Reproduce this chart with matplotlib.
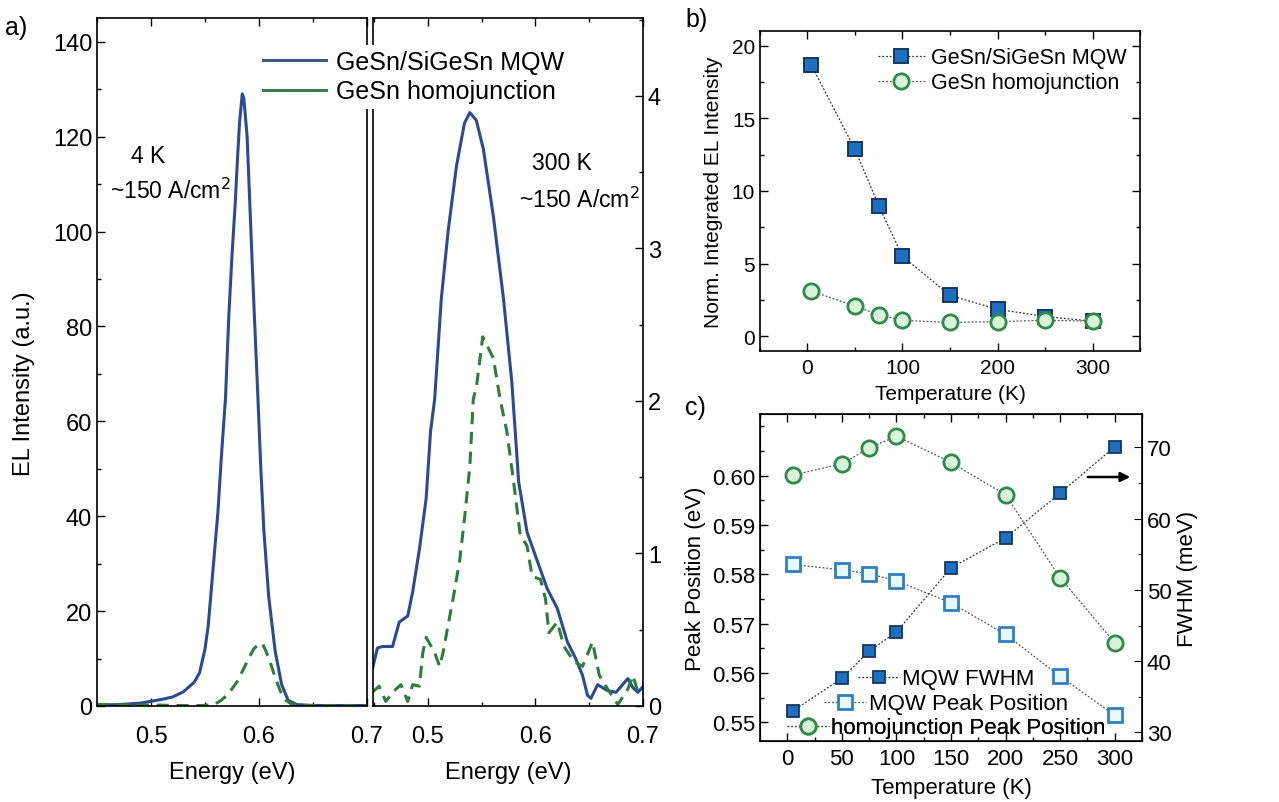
import matplotlib
matplotlib.use("Agg")
import matplotlib.pyplot as plt
import numpy as np
from matplotlib.ticker import MultipleLocator, FixedLocator, FormatStrFormatter
from matplotlib.lines import Line2D

plt.rcParams['font.family'] = ['Liberation Sans', 'DejaVu Sans']

# ---------------- data: panel a (4 K) ----------------
e_mqw_4k = [0.45, 0.47, 0.49, 0.50, 0.51, 0.52, 0.53, 0.54, 0.545, 0.55, 0.553, 0.556, 0.559,
            0.562, 0.565, 0.569, 0.572, 0.575, 0.578, 0.580, 0.582, 0.5845, 0.586, 0.589, 0.592,
            0.595, 0.599, 0.6015, 0.6045, 0.609, 0.615, 0.621, 0.627, 0.635, 0.65, 0.70]
i_mqw_4k = [0.2, 0.3, 0.6, 1.0, 1.4, 1.9, 3.0, 5.0, 7.0, 12, 17, 25, 33,
            41, 52, 65, 82, 95, 106, 115, 123, 129, 128, 120, 103,
            86, 65, 51, 37, 23, 11.5, 4.5, 1.2, 0.3, 0.1, 0.1]
e_homo_4k = [0.45, 0.50, 0.53, 0.55, 0.56, 0.565, 0.57, 0.575, 0.58, 0.585, 0.59, 0.595,
             0.60, 0.603, 0.606, 0.61, 0.615, 0.62, 0.625, 0.63, 0.64, 0.70]
i_homo_4k = [0.3, 0.2, 0.1, 0.1, 0.5, 1.2, 2.2, 3.6, 5.2, 7.5, 9.8, 12.0,
             13.1, 13.2, 11.8, 9.5, 6.0, 3.0, 1.2, 0.4, 0.1, 0.1]

# ---------------- data: panel a (300 K) ----------------
e_mqw_300k = [0.4484, 0.4531, 0.4578, 0.4672, 0.4734, 0.4813, 0.4859, 0.4922, 0.4984, 0.5025,
              0.5063, 0.5125, 0.5188, 0.5266, 0.5340, 0.5390, 0.5450, 0.5516, 0.5609, 0.5703,
              0.5781, 0.5844, 0.5922, 0.6000, 0.6109, 0.6203, 0.6297, 0.6375, 0.6438, 0.6484,
              0.6516, 0.6578, 0.6672, 0.6750, 0.6859, 0.6906, 0.6953, 0.7016]
i_mqw_300k = [0.24, 0.38, 0.39, 0.39, 0.55, 0.59, 0.75, 1.03, 1.36, 1.80,
              2.01, 2.67, 3.11, 3.54, 3.82, 3.89, 3.84, 3.65, 3.21, 2.67,
              2.12, 1.47, 1.14, 0.985, 0.77, 0.64, 0.42, 0.31, 0.20, 0.07,
              0.05, 0.14, 0.10, 0.09, 0.18, 0.12, 0.09, 0.14]
e_homo_300k = [0.4484, 0.4547, 0.4609, 0.4672, 0.4750, 0.4813, 0.4859, 0.4922, 0.4953, 0.4984,
               0.5063, 0.5109, 0.5141, 0.5188, 0.5234, 0.5297, 0.5344, 0.5390, 0.5422, 0.5453,
               0.5510, 0.5609, 0.5672, 0.5734, 0.5797, 0.5859, 0.5922, 0.5969, 0.6047, 0.6094,
               0.6125, 0.6203, 0.6266, 0.6359, 0.6438, 0.6531, 0.6594, 0.6672, 0.6766, 0.6859,
               0.6906, 0.6953, 0.7016]
i_homo_300k = [0.09, 0.13, 0.03, 0.09, 0.14, 0.03, 0.14, 0.13, 0.35, 0.45,
               0.35, 0.26, 0.35, 0.53, 0.70, 0.96, 1.25, 1.57, 2.01, 2.10,
               2.42, 2.28, 2.01, 1.80, 1.47, 1.12, 1.05, 0.85, 0.83, 0.70,
               0.48, 0.55, 0.39, 0.29, 0.26, 0.42, 0.20, 0.11, 0.01, 0.11,
               0.20, 0.09, 0.07]

# ---------------- data: panel b ----------------
temps_b = [4, 50, 75, 100, 150, 200, 250, 300]
int_mqw = [18.66, 12.86, 8.99, 5.51, 2.82, 1.87, 1.37, 1.05]
int_homo = [3.12, 2.09, 1.48, 1.11, 0.96, 1.02, 1.11, 1.05]

# ---------------- data: panel c ----------------
temps_c = [5, 50, 75, 100, 150, 200, 250, 300]
fwhm_mqw = [33.0, 37.6, 41.4, 44.1, 53.1, 57.3, 63.6, 70.1]
peak_mqw = [0.5820, 0.5809, 0.5801, 0.5787, 0.5742, 0.5678, 0.5593, 0.5514]
peak_homo = [0.6001, 0.6024, 0.6056, 0.6080, 0.6027, 0.5961, 0.5793, 0.5661]

BLUE = '#2c4a94'
GREEN = '#2f7d3c'
SQ_FACE = '#1f6fbf'
SQ_EDGE = '#16365f'
OSQ_FACE = '#e8f8ff'
OSQ_EDGE = '#2f80c0'
CI_FACE = '#d8f5dc'
CI_EDGE = '#2e8b4a'

W, H = 1279, 803
fig = plt.figure(figsize=(W / 100, H / 100), dpi=100)


def box(x0, y0, x1, y1):
    return [x0 / W, 1 - y1 / H, (x1 - x0) / W, (y1 - y0) / H]


def style(ax, size):
    ax.tick_params(which='both', direction='in', top=True, right=True, labelsize=size, width=1)
    ax.tick_params(which='major', length=6)
    ax.tick_params(which='minor', length=3)
    for s in ax.spines.values():
        s.set_linewidth(1.2)


# ---------- panel a left ----------
axL = fig.add_axes(box(97, 19, 367, 707))
axL.plot(e_mqw_4k, i_mqw_4k, color=BLUE, lw=2.2)
axL.plot(e_homo_4k, i_homo_4k, color=GREEN, lw=2.2, ls=(0, (4, 2.5)))
axL.set_xlim(0.45, 0.70)
axL.set_ylim(0, 145)
axL.xaxis.set_minor_locator(MultipleLocator(0.05))
axL.yaxis.set_major_locator(MultipleLocator(20))
axL.yaxis.set_minor_locator(MultipleLocator(10))
style(axL, 17)
axL.tick_params(which='both', right=False)
axL.tick_params(axis='x', pad=14)
axL.set_xticks([0.5, 0.6, 0.7])
axL.set_xticklabels(['0.5', '0.6', '0.7'])
axL.set_xlabel('Energy (eV)', fontsize=17, labelpad=10)
axL.set_ylabel('EL Intensity (a.u.)', fontsize=17)
axL.yaxis.set_label_coords(-0.23, 0.47)
axL.text(0.19, 0.80, '4 K', transform=axL.transAxes, fontsize=16.5, ha='center', va='center')
axL.text(0.27, 0.749, '~150 A/cm$^2$', transform=axL.transAxes, fontsize=16.5, ha='center', va='center')

# ---------- panel a right ----------
axR = fig.add_axes(box(373, 19, 643, 707))
axR.plot(e_mqw_300k, i_mqw_300k, color=BLUE, lw=2.2)
axR.plot(e_homo_300k, i_homo_300k, color=GREEN, lw=2.2, ls=(0, (4, 2.5)))
axR.set_xlim(0.449, 0.70)
axR.set_ylim(0, 4.51)
axR.xaxis.set_minor_locator(MultipleLocator(0.05))
axR.yaxis.set_major_locator(MultipleLocator(1))
axR.yaxis.set_minor_locator(MultipleLocator(0.5))
style(axR, 17)
axR.set_xticks([0.5, 0.6, 0.7])
axR.set_xticklabels(['0.5', '0.6', '0.7'])
axR.tick_params(which='both', left=False, labelleft=False, labelright=True)
axR.tick_params(axis='x', pad=14)
axR.set_xlabel('Energy (eV)', fontsize=17, labelpad=10)
axR.text(0.70, 0.79, '300 K', transform=axR.transAxes, fontsize=16.5, ha='center', va='center')
axR.text(0.765, 0.737, '~150 A/cm$^2$', transform=axR.transAxes, fontsize=16.5, ha='center', va='center')

# shared legend for panel a (covers the divider)
hd = [Line2D([], [], color='#3a5a8c', lw=2.2), Line2D([], [], color='#3b7a4c', lw=2.2)]
leg = fig.legend(hd, ['GeSn/SiGeSn MQW', 'GeSn homojunction'], loc='upper left',
                 bbox_to_anchor=(258 / W, 1 - 46 / H), frameon=True, fontsize=18,
                 handlelength=2.5, handletextpad=0.4, labelspacing=0.22, borderpad=0.2,
                 borderaxespad=0)
leg.get_frame().set_edgecolor('none')
leg.get_frame().set_facecolor('white')
leg.get_frame().set_alpha(1)
leg.set_zorder(10)

fig.text(5 / W, 1 - 28 / H, 'a)', fontsize=18, va='center')

# ---------- panel b ----------
axB = fig.add_axes(box(760, 32, 1140, 352))
axB.plot(temps_b, int_mqw, color='#333333', lw=0.9, ls=(0, (1.5, 1.5)), marker='s', ms=10,
         mfc=SQ_FACE, mec=SQ_EDGE, mew=1.4, label='GeSn/SiGeSn MQW')
axB.plot(temps_b, int_homo, color='#555555', lw=0.9, ls=(0, (1.5, 1.5)), marker='o', ms=11,
         mfc=CI_FACE, mec=CI_EDGE, mew=2, label='GeSn homojunction')
axB.set_xlim(-50, 350)
axB.set_ylim(-1, 21)
axB.xaxis.set_major_locator(MultipleLocator(100))
axB.xaxis.set_minor_locator(MultipleLocator(50))
axB.yaxis.set_major_locator(MultipleLocator(5))
axB.yaxis.set_minor_locator(MultipleLocator(2.5))
style(axB, 15)
axB.tick_params(axis='x', pad=5)
axB.set_xlabel('Temperature (K)', fontsize=15, labelpad=5)
axB.set_ylabel('Norm. Integrated EL Intensity', fontsize=15, labelpad=6)
axB.legend(loc='upper right', bbox_to_anchor=(1.0, 0.99), frameon=False, fontsize=15.5,
           handlelength=2.2, handletextpad=0.3, labelspacing=0.2, borderaxespad=0.2)
fig.text(685 / W, 1 - 20 / H, 'b)', fontsize=18, va='center')

# ---------- panel c ----------
axC = fig.add_axes(box(760, 415, 1142, 742))
axC2 = axC.twinx()
l1, = axC2.plot(temps_c, fwhm_mqw, color='#333333', lw=0.9, ls=(0, (1.5, 1.5)), marker='s', ms=9,
                mfc=SQ_FACE, mec=SQ_EDGE, mew=1.3)
l2, = axC.plot(temps_c, peak_mqw, color='#555555', lw=0.9, ls=(0, (1.5, 1.5)), marker='s', ms=10,
               mfc=OSQ_FACE, mec=OSQ_EDGE, mew=2)
l3, = axC.plot(temps_c, peak_homo, color='#555555', lw=0.9, ls=(0, (1.5, 1.5)), marker='o', ms=11,
               mfc=CI_FACE, mec=CI_EDGE, mew=2)
axC.set_xlim(-25, 325)
axC.set_ylim(0.5462, 0.6125)
axC2.set_ylim(28.8, 74.7)
axC.xaxis.set_major_locator(MultipleLocator(50))
axC.xaxis.set_minor_locator(MultipleLocator(25))
axC.yaxis.set_major_locator(FixedLocator([0.55, 0.56, 0.57, 0.58, 0.59, 0.60]))
axC.yaxis.set_minor_locator(FixedLocator([0.555, 0.565, 0.575, 0.585, 0.595, 0.605, 0.61]))
axC2.yaxis.set_major_locator(MultipleLocator(10))
axC2.yaxis.set_minor_locator(MultipleLocator(5))
axC.yaxis.set_major_formatter(FormatStrFormatter('%.2f'))
style(axC, 16)
axC.tick_params(which='both', right=False)
axC.tick_params(axis='x', pad=5)
axC2.tick_params(which='both', direction='in', labelsize=16)
axC2.tick_params(which='major', length=6)
axC2.tick_params(which='minor', length=3)
axC.set_xlabel('Temperature (K)', fontsize=16, labelpad=6)
axC.set_ylabel('Peak Position (eV)', fontsize=16, labelpad=4)
axC2.set_ylabel('FWHM (meV)', fontsize=16, labelpad=4)
axC2.annotate('', xy=(1133 / W, 1 - 478 / H), xytext=(1085 / W, 1 - 478 / H),
              xycoords='figure fraction', textcoords='figure fraction',
              arrowprops=dict(arrowstyle='-|>', color='black', lw=1.8, mutation_scale=14))
for h, lab, yc in [(l1, 'MQW FWHM', 680), (l2, 'MQW Peak Position', 705),
                   (l3, 'homojunction Peak Position', 729)]:
    lg = axC2.legend([h], [lab], loc='center', bbox_to_anchor=(946 / W, 1 - yc / H),
                     bbox_transform=fig.transFigure, frameon=False, fontsize=16,
                     handlelength=1.9, handletextpad=0.1, borderpad=0, borderaxespad=0)
    axC2.add_artist(lg)
fig.text(685 / W, 1 - 408 / H, 'c)', fontsize=18, va='center')

fig.savefig('out.png', dpi=100)
